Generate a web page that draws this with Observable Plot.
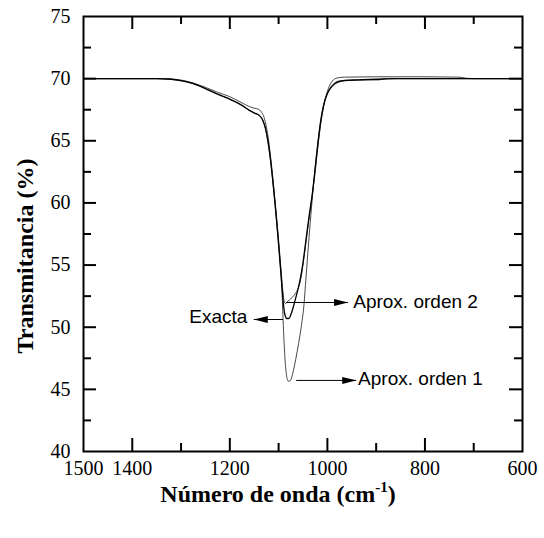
<!DOCTYPE html>
<html>
<head>
<meta charset="utf-8">
<script src="https://cdn.jsdelivr.net/npm/d3@7"></script>
<script src="https://cdn.jsdelivr.net/npm/@observablehq/plot@0.6"></script>
<style>
  body { margin: 0; background: #fff; }
</style>
</head>
<body>
<div id="chart"></div>
<script>
// Transmittance spectra (%) against wavenumber (cm-1): exact curve and two approximations
const exactaWn = [1500,1450,1400,1350,1320,1295,1275,1250,1225,1200,1175,1160,1148,1140,1133,1127,1122,1117,1112,1107,1102,1097,1093,1090,1087,1083,1079,1074,1068,1062,1056,1050,1044,1038,1032,1026,1020,1014,1008,1000,990,980,965,940,900,860,800,700,600];
const exactaT  = [70,70,70,70,69.95,69.8,69.6,69.2,68.75,68.35,67.85,67.45,67.2,67.05,66.7,66.0,65.0,63.6,61.8,59.8,57.6,55.2,53.2,51.8,51.0,50.7,50.7,51.1,51.9,52.8,53.8,55.2,57.0,58.8,60.4,62.4,64.6,66.5,67.8,68.8,69.4,69.7,69.85,69.9,69.95,70,70,70,70];

const orden2Wn = [1500,1450,1400,1350,1320,1295,1275,1250,1225,1200,1175,1160,1150,1142,1135,1130,1125,1120,1115,1110,1105,1100,1095,1091,1088,1086,1083,1078,1072,1066,1060,1054,1048,1042,1036,1030,1024,1018,1012,1006,998,990,980,965,900,800,730,715,700,600];
const orden2T  = [70,70,70,70,69.97,69.85,69.65,69.3,68.9,68.55,68.05,67.75,67.62,67.55,67.3,66.9,66.1,64.9,63.2,61.3,59.2,57.0,54.6,52.8,52.0,51.9,52.0,52.2,52.4,52.7,53.1,54.0,55.6,57.4,59.2,60.9,62.9,65.0,66.8,68.1,69.2,69.8,70.05,70.12,70.15,70.15,70.12,70.03,70,70];

const orden1Wn = [1500,1450,1400,1350,1320,1295,1275,1250,1225,1200,1175,1160,1148,1140,1133,1127,1122,1117,1112,1107,1102,1097,1093,1090,1087,1084,1080,1076,1071,1065,1059,1053,1048,1044,1040,1035,1030,1024,1019,1013,1007,998,988,978,960,920,894,880,600];
const orden1T  = [70,70,70,70,69.95,69.8,69.6,69.2,68.75,68.35,67.85,67.45,67.2,67.05,66.7,66.0,65.0,63.6,61.8,59.8,57.6,55.2,52.8,49.8,47.5,46.2,45.65,45.7,46.3,47.4,48.7,50.2,51.8,53.9,56.0,58.5,60.8,63.3,65.0,66.8,68.0,69.0,69.55,69.8,69.85,69.88,69.9,70,70];

// Axis ticks
const xLabels = [1500, 1400, 1200, 1000, 800, 600];
const xMajor = [1400, 1200, 1000, 800];
const xMinor = [1300, 1100, 900, 700];
const yLabels = [40, 45, 50, 55, 60, 65, 70, 75];
const yMajor = [45, 50, 55, 60, 65, 70];
const yMinor = [42.5, 47.5, 52.5, 57.5, 62.5, 67.5, 72.5];

// Callouts: label text, label anchor, arrow tail (on the curve) and arrow tip
const noteText = ["Exacta", "Aprox. orden 2", "Aprox. orden 1"];
const noteAnchor = ["end", "start", "start"];
const noteWn = [1164, 947, 937];
const noteT = [50.85, 52.05, 45.85];
const arrowFromWn = [1091, 1085, 1064];
const arrowToWn = [1151, 957.6, 941];
const arrowT = [50.62, 51.99, 45.72];

const series = [
  ...exactaWn.map((wn, i) => ({serie: "Exacta", wn, t: exactaT[i]})),
  ...orden2Wn.map((wn, i) => ({serie: "Aprox. orden 2", wn, t: orden2T[i]})),
  ...orden1Wn.map((wn, i) => ({serie: "Aprox. orden 1", wn, t: orden1T[i]}))
];
const notes = noteText.map((text, i) => ({
  text, anchor: noteAnchor[i], wn: noteWn[i], t: noteT[i],
  x1: arrowFromWn[i], x2: arrowToWn[i], y: arrowT[i]
}));

const width = 544, height = 538;
const margin = {top: 16, right: 22, bottom: 87, left: 83};
const innerW = width - margin.left - margin.right;
const innerH = height - margin.top - margin.bottom;
const majorLen = 13, minorLen = 8;
const serif = "'Liberation Serif', 'Times New Roman', serif";
const sans = "'Liberation Sans', Arial, sans-serif";

const chart = Plot.plot({
  width, height,
  marginTop: margin.top, marginRight: margin.right,
  marginBottom: margin.bottom, marginLeft: margin.left,
  style: {fontFamily: serif, fontSize: "20px", color: "#000", background: "#fff"},
  x: {domain: [1500, 600], ticks: xLabels, tickSize: 0, tickPadding: 9, tickFormat: d => String(d), label: null},
  y: {domain: [40, 75], ticks: yLabels, tickSize: 0, tickPadding: 13, label: null},
  marks: [
    // inward ticks on all four sides
    Plot.tickX(xMajor, {x: d => d, insetTop: innerH - majorLen, strokeWidth: 2}),
    Plot.tickX(xMajor, {x: d => d, insetBottom: innerH - majorLen, strokeWidth: 2}),
    Plot.tickX(xMinor, {x: d => d, insetTop: innerH - minorLen, strokeWidth: 2}),
    Plot.tickX(xMinor, {x: d => d, insetBottom: innerH - minorLen, strokeWidth: 2}),
    Plot.tickY(yMajor, {y: d => d, insetRight: innerW - majorLen, strokeWidth: 2}),
    Plot.tickY(yMajor, {y: d => d, insetLeft: innerW - majorLen, strokeWidth: 2}),
    Plot.tickY(yMinor, {y: d => d, insetRight: innerW - minorLen, strokeWidth: 2}),
    Plot.tickY(yMinor, {y: d => d, insetLeft: innerW - minorLen, strokeWidth: 2}),
    // spectra
    Plot.line(series.filter(d => d.serie === "Aprox. orden 1"), {x: "wn", y: "t", stroke: "#333", strokeWidth: 0.9, curve: "monotone-x"}),
    Plot.line(series.filter(d => d.serie === "Aprox. orden 2"), {x: "wn", y: "t", stroke: "#333", strokeWidth: 0.9, curve: "monotone-x"}),
    Plot.line(series.filter(d => d.serie === "Exacta"), {x: "wn", y: "t", stroke: "#000", strokeWidth: 1.3, curve: "monotone-x"}),
    // callout arrows and labels
    Plot.link(notes, {x1: "x1", x2: "x2", y1: "y", y2: "y", stroke: "#000", strokeWidth: 1}),
    Plot.text(notes.filter(d => d.anchor === "end"), {x: "wn", y: "t", text: "text", textAnchor: "end", fontFamily: sans, fontSize: 19}),
    Plot.text(notes.filter(d => d.anchor === "start"), {x: "wn", y: "t", text: "text", textAnchor: "start", fontFamily: sans, fontSize: 19}),
    // y axis title
    Plot.text(["Transmitancia (%)"], {frameAnchor: "left", textAnchor: "middle", dx: -58, dy: 22, rotate: -90, fontWeight: "bold", fontSize: 24}),
    Plot.frame({stroke: "#000", strokeWidth: 2})
  ]
});

document.getElementById("chart").appendChild(chart);

// filled arrowheads for the callout links
const svg = d3.select(chart);
svg.insert("defs", ":first-child")
  .append("marker")
  .attr("id", "arrowhead")
  .attr("viewBox", "0 -4 14 8")
  .attr("refX", 14).attr("refY", 0)
  .attr("markerWidth", 14).attr("markerHeight", 8)
  .attr("markerUnits", "userSpaceOnUse")
  .attr("orient", "auto")
  .append("path")
  .attr("d", "M0,-3.5L14,0L0,3.5Z")
  .attr("fill", "#000");
svg.selectAll('g[aria-label="link"] path').attr("marker-end", "url(#arrowhead)");

// x axis title with superscript exponent
const xTitle = svg.append("text")
  .attr("x", 278).attr("y", 502)
  .attr("text-anchor", "middle")
  .attr("font-family", serif)
  .attr("font-weight", "bold")
  .attr("font-size", 24)
  .attr("fill", "#000");
xTitle.append("tspan").text("Número de onda (cm");
xTitle.append("tspan").attr("dy", -10).attr("font-size", 15).text("-1");
xTitle.append("tspan").attr("dy", 10).text(")");
</script>
</body>
</html>
